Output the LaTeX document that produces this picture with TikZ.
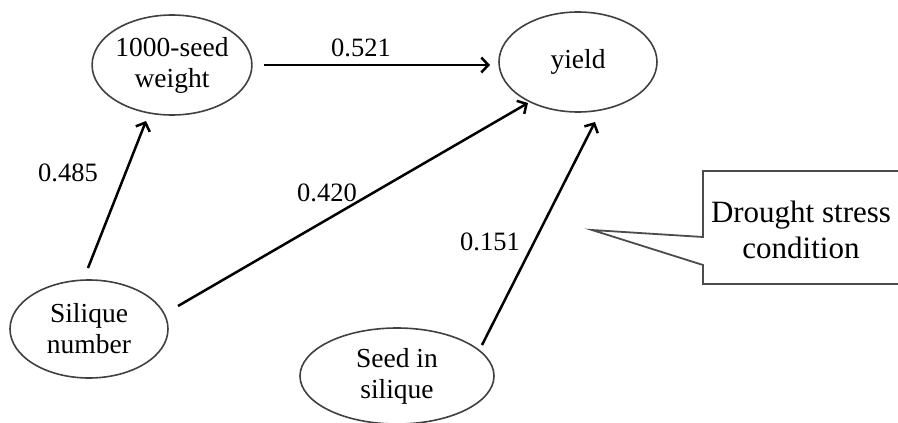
\documentclass[tikz,border=0pt]{standalone}
\usepackage{fontspec}
\setmainfont{Liberation Serif}
\usetikzlibrary{shapes.geometric,arrows.meta}
\tikzset{
  var/.style={ellipse, draw=black!75, line width=1.6pt, minimum width=#1, minimum height=100pt, inner sep=0pt, align=center, font=\fontsize{27.5}{31}\selectfont},
  path/.style={line width=2.5pt, -{Straight Barb[length=7pt,width=15pt,line width=2.5pt]}},
  coef/.style={font=\fontsize{26.5}{30}\selectfont, inner sep=0pt}
}
\begin{document}
\begin{tikzpicture}[x=1pt,y=-1pt]
\useasboundingbox (0,0) rectangle (898,423);
\node[var=158pt] (tsw) at (172,65) {1000-seed\\weight};
\node[var=158pt] (yld) at (578,62) {yield};
\node[var=158pt, minimum height=98pt] (sil) at (89,329) {Silique\\number};
\node[var=194pt, minimum height=96pt] (sis) at (397,376) {Seed in\\silique};
% connector end points
\coordinate (a1) at (264,65);
\coordinate (b1) at (490,65);
\coordinate (a2) at (88,268);
\coordinate (b2) at (146,121);
\coordinate (a3) at (178,306);
\coordinate (b3) at (528,103);
\coordinate (a4) at (482,345);
\coordinate (b4) at (595,122);
\draw[path] (a1) -- (b1);
\draw[path] (a2) -- (b2);
\draw[path] (a3) -- (b3);
\draw[path] (a4) -- (b4);
\node[coef] (l1) at (361,48) {0.521};
\node[coef] (l2) at (68,173) {0.485};
\node[coef] (l3) at (327,193) {0.420};
\node[coef] (l4) at (490,242) {0.151};
% callout
\draw[draw=black!70, line width=1.8pt, fill=white]
  (900,171) -- (703,171) -- (703,237) -- (592,230) -- (703,265) -- (703,284) -- (900,284);
\node[font=\fontsize{31}{36}\selectfont, align=center, inner sep=0pt] (cap) at (801,230) {Drought stress\\condition};
\end{tikzpicture}
\end{document}
